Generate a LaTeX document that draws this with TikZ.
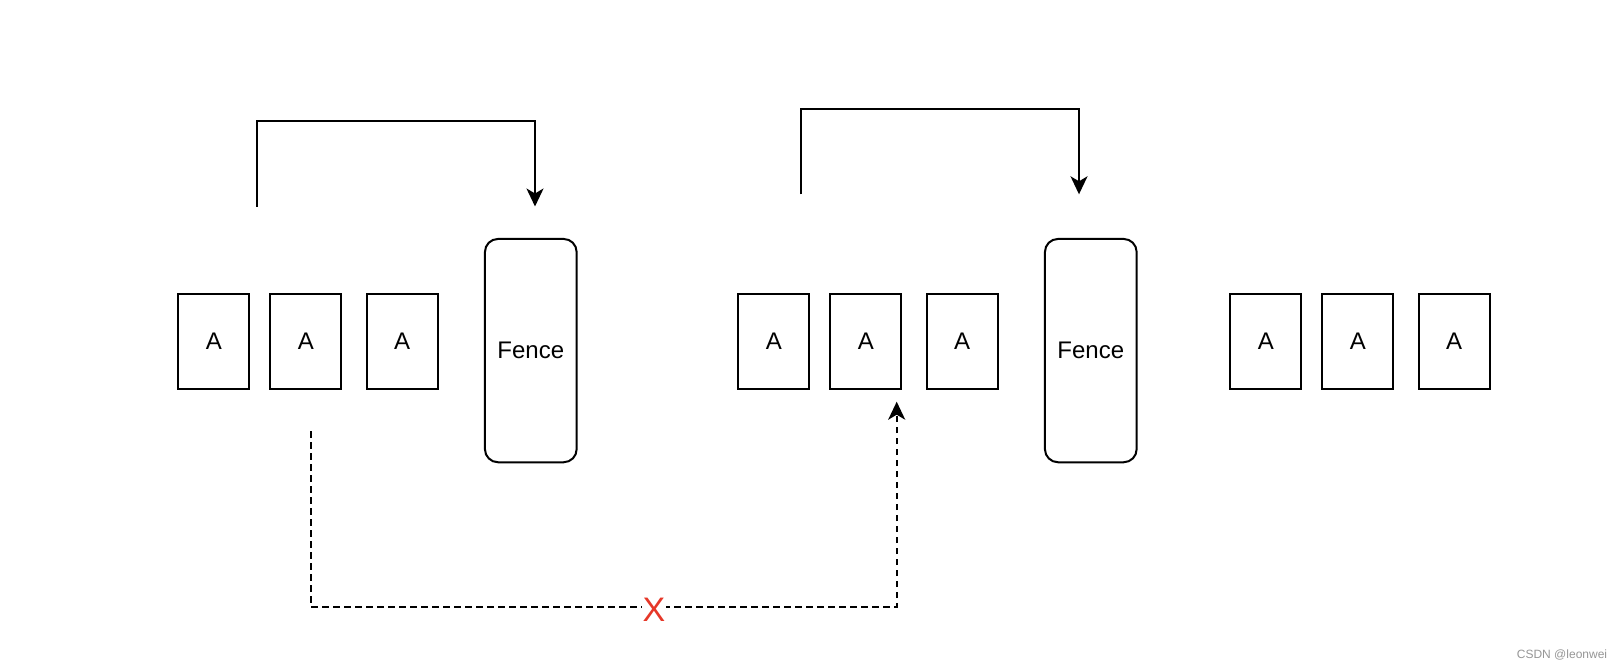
\documentclass[tikz,border=0pt]{standalone}
\usepackage{fontspec}
\setmainfont{Liberation Sans}
\usetikzlibrary{arrows.meta}
\definecolor{xred}{RGB}{230,55,40}
\definecolor{wmgray}{RGB}{150,150,150}
\begin{document}
\begin{tikzpicture}[x=1pt,y=-1pt,
  abox/.style={draw,line width=2pt,rectangle,minimum width=71pt,minimum height=94.5pt,inner sep=0pt,font=\fontsize{24}{28}\selectfont},
  fencebox/.style={draw,line width=2pt,rectangle,rounded corners=13pt,minimum width=91.7pt,minimum height=223.3pt,inner sep=0pt,font=\fontsize{24}{28}\selectfont},
  conn/.style={line width=2pt,-{Stealth[length=18pt,width=17pt,inset=5pt]}},
  dconn/.style={conn,dash pattern=on 6.5pt off 4.5pt}]
\useasboundingbox (0,0) rectangle (1622,668);
\fill[white] (0,0) rectangle (1622,668);
% left group
\node[abox] (a1) at (213.8,341.7) {A};
\node[abox] (a2) at (305.9,341.7) {A};
\node[abox] (a3) at (402.0,341.7) {A};
\node[fencebox] (f1) at (530.8,350.6) {Fence};
% middle group
\node[abox] (b1) at (773.8,341.7) {A};
\node[abox] (b2) at (865.9,341.7) {A};
\node[abox] (b3) at (962.0,341.7) {A};
\node[fencebox] (f2) at (1090.8,350.6) {Fence};
% right group
\node[abox] (c1) at (1265.8,341.7) {A};
\node[abox] (c2) at (1357.9,341.7) {A};
\node[abox] (c3) at (1454.0,341.7) {A};
% top arrows
\coordinate (s1) at (256.7,206.7);
\coordinate (t1) at (256.7,120.7);
\coordinate (e1) at (535,206.5);
\draw[conn] (s1) -- (t1) -| (e1);
\coordinate (s2) at (800.7,194.3);
\coordinate (t2) at (800.7,109);
\coordinate (e2) at (1079,194.3);
\draw[conn] (s2) -- (t2) -| (e2);
% dashed arrow
\coordinate (d1) at (311,431);
\coordinate (d2) at (311,606.7);
\coordinate (d4) at (896.7,401.7);
\draw[dconn] (d1) -- (d2) -| (d4);
\node[fill=white,inner sep=1pt,text=xred,font=\fontsize{34}{36}\selectfont] (xm) at (654,610) {X};
% watermark
\node[text=wmgray,font=\fontsize{12}{14}\selectfont,inner sep=0pt] (wm) at (1562,655) {CSDN @leonwei};
\end{tikzpicture}
\end{document}
